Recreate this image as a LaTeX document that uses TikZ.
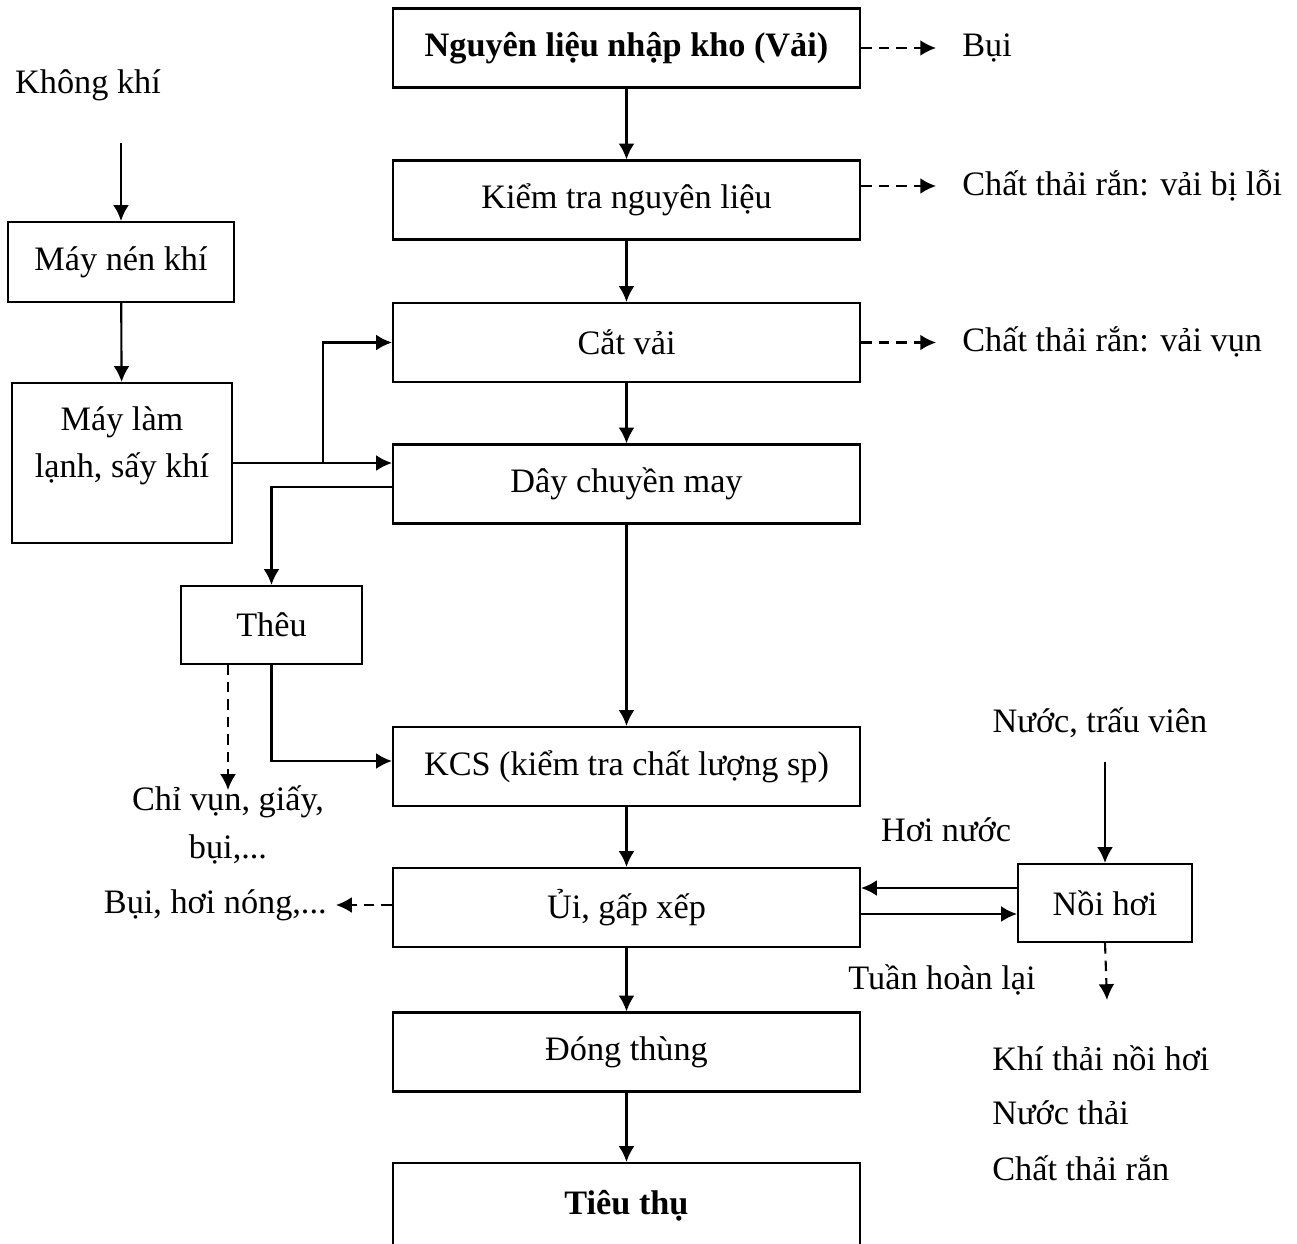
\documentclass[tikz,border=0pt]{standalone}
\usepackage{fontspec}
\setmainfont{Liberation Serif}
\usetikzlibrary{arrows.meta}
\begin{document}
\begin{tikzpicture}[x=0.02cm,y=-0.02cm,
  font=\fontsize{19.5}{23}\selectfont,
  box/.style={draw,line width=1.2pt,rectangle,inner sep=0pt,align=center},
  mainbox/.style={box,minimum width=467*0.02cm,minimum height=79*0.02cm},
  arr/.style={line width=1.2pt,-{Latex[length=9pt,width=9pt]}},
  darr/.style={arr,dash pattern=on 6pt off 4pt},
  lbl/.style={inner sep=0pt}]
\useasboundingbox (0,0) rectangle (1297,1243);
\clip (0,0) rectangle (1297,1243);
% main boxes
\node[mainbox,font=\fontsize{19.5}{23}\selectfont\bfseries] (n1) at (626.5,48) {Nguyên liệu nhập kho (Vải)};
\node[mainbox] (n2) at (626.5,200) {Kiểm tra nguyên liệu};
\node[mainbox] (n3) at (626.5,342.5) {Cắt vải};
\node[mainbox] (n4) at (626.5,484) {Dây chuyền may};
\node[mainbox] (n5) at (626.5,766.5) {KCS (kiểm tra chất lượng sp)};
\node[mainbox] (n6) at (626.5,907.5) {Ủi, gấp xếp};
\node[mainbox] (n7) at (626.5,1052) {Đóng thùng};
\node[mainbox,minimum height=160*0.02cm] (n8) at (626.5,1243) {};
\node[lbl,font=\fontsize{19.5}{23}\selectfont\bfseries] (n8t) at (626.5,1206) {Tiêu thụ};
% left side
\node[box,minimum width=226*0.02cm,minimum height=80*0.02cm] (mn) at (121,262) {Máy nén khí};
\node[box,minimum width=220*0.02cm,minimum height=160*0.02cm] (ml) at (122,463) {};
\node[lbl,align=center] (mlt) at (122,446) {Máy làm\\[4pt]lạnh, sấy khí};
\node[box,minimum width=181*0.02cm,minimum height=78*0.02cm] (th) at (271.5,625) {Thêu};
\node[box,minimum width=174*0.02cm,minimum height=78*0.02cm] (nh) at (1105,903) {Nồi hơi};
% labels
\node[lbl] (kk) at (88,85) {Không khí};
\coordinate (kka) at (121,143);
\node[lbl,anchor=west] (bui) at (962,48) {Bụi};
\node[lbl,anchor=west] (ct1) at (962,186) {Chất thải rắn: vải bị lỗi};
\node[lbl,anchor=west] (ct2) at (962,342) {Chất thải rắn: vải vụn};
\node[lbl,align=center] (cv) at (228,825) {Chỉ vụn, giấy,\\[4pt]bụi,...};
\node[lbl,anchor=east] (bh) at (327,905) {Bụi, hơi nóng,...};
\node[lbl] (hn) at (946,830) {Hơi nước};
\node[lbl] (thl) at (942,980) {Tuần hoàn lại};
\node[lbl] (ntv) at (1100,723) {Nước, trấu viên};
\coordinate (ntva) at (1105,762);
\node[lbl,anchor=west] (kt) at (992,1058) {Khí thải nồi hơi};
\node[lbl,anchor=west] (nt) at (992,1113) {Nước thải};
\node[lbl,anchor=west] (ctr) at (992,1168) {Chất thải rắn};
% main flow
\draw[arr] (n1) -- (n2);
\draw[arr] (n2) -- (n3);
\draw[arr] (n3) -- (n4);
\draw[arr] (n4) -- (n5);
\draw[arr] (n5) -- (n6);
\draw[arr] (n6) -- (n7);
\draw[arr] (n7) -- (n8.north);
% dashed outputs
\draw[darr] (n1.east) -- ++(75,0);
\draw[darr] (n2.east |- ct1) -- ++(75,0);
\draw[darr] (n3.east) -- ++(75,0);
\draw[darr] (n6.west |- bh) -- ++(-56,0);
% left side flows
\draw[arr] (kka) -- (mn.north);
\draw[arr] (mn) -- (ml);
\draw[arr] (ml.east |- 0,463) -- (n4.west |- 0,463);
\draw[arr] (323,463) |- (n3.west);
\draw[arr] (n4.west |- 0,487) -| (th.north);
\draw[arr] (th.south) |- (n5.west |- 0,761);
\draw[darr] (228,664) -- (228,790);
% boiler
\draw[arr] (nh.west |- 0,888) -- (n6.east |- 0,888);
\draw[arr] (n6.east |- 0,914) -- (nh.west |- 0,914);
\draw[arr] (ntva) -- (nh.north);
\draw[darr] (nh.south) -- (1107,1000);
\end{tikzpicture}
\end{document}
